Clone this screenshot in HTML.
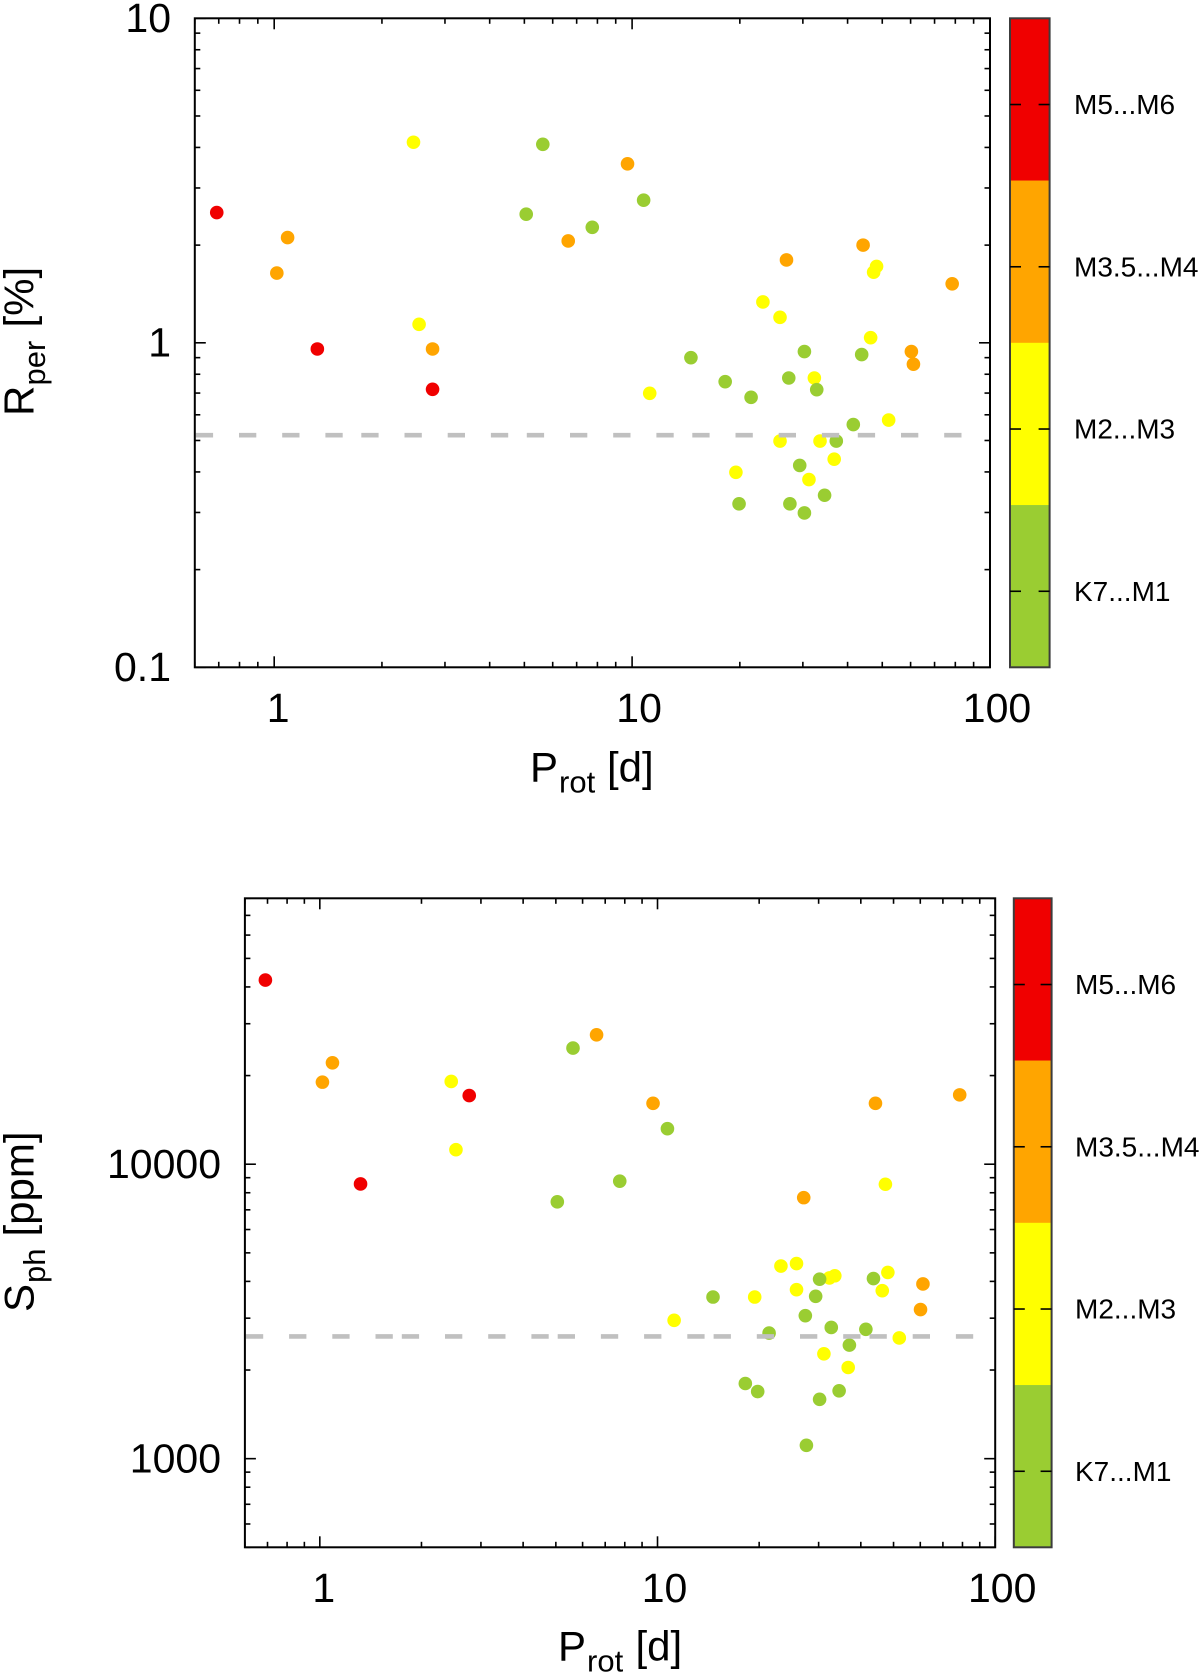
<!DOCTYPE html>
<html lang="en">
<head>
<meta charset="utf-8">
<title>Rotation period vs variability</title>
<style>
  html, body { margin: 0; padding: 0; background: #fff; }
  svg { display: block; }
  text { font-family: "Liberation Sans", Arial, sans-serif; fill: #000; }
  .tick-label { font-size: 41px; }
  .axis-title { font-size: 42px; }
  .axis-sub { font-size: 31px; }
  .cb-label { font-size: 28px; }
</style>
</head>
<body>
<svg id="figure" xmlns="http://www.w3.org/2000/svg" width="1200" height="1679" viewBox="0 0 1200 1679">
  <rect x="0" y="0" width="1200" height="1679" fill="#fff"/>
  <g id="plot-top">
    <g>
      <text class="axis-title" transform="translate(33.7,416) rotate(-90)">R</text>
      <text class="axis-sub" transform="translate(45,385.5) rotate(-90)">per</text>
      <text class="axis-title" transform="translate(33.7,327.5) rotate(-90)">[%]</text>
    </g>
    <g>
      <text class="axis-title" x="530" y="781.7">P</text>
      <text class="axis-sub" x="559" y="792.7">rot</text>
      <text class="axis-title" x="607" y="781.7">[d]</text>
    </g>
  </g>
  <g id="plot-bottom">
    <g>
      <text class="axis-title" transform="translate(33.7,1312) rotate(-90)">S</text>
      <text class="axis-sub" transform="translate(45,1283) rotate(-90)">ph</text>
      <text class="axis-title" transform="translate(33.7,1236.5) rotate(-90)">[ppm]</text>
    </g>
    <g>
      <text class="axis-title" x="558" y="1660.7">P</text>
      <text class="axis-sub" x="587" y="1671.7">rot</text>
      <text class="axis-title" x="635.5" y="1660.7">[d]</text>
    </g>
  </g>
</svg>
<script>
// ---- shared categories ----
const classNames = ["M5...M6", "M3.5...M4", "M2...M3", "K7...M1"];
const classColors = ["#f00000", "#ffa500", "#ffff00", "#9acd32"];
const xTickLabels = [1, 10, 100];

// ---- upper panel data ----
const rperTickLabels = [10, 1, 0.1];
const rperThreshold = [0.519];
const rperPeriods = [
  0.691, 1.32, 2.77,
  1.09, 1.017, 2.77, 6.63, 9.71, 27.0, 44.2, 78.4, 60.3, 61.1,
  2.45, 2.54, 48.2, 47.3, 23.2, 25.9, 46.4, 32.3, 11.2, 52.1, 25.9, 33.5, 36.7, 31.2, 19.5,
  5.63, 5.06, 7.74, 10.77, 30.3, 43.8, 14.6, 18.2, 27.4, 32.8, 21.5, 41.5, 37.2, 29.4, 34.5, 19.9, 27.6, 30.3
];
const rperValues = [
  2.52, 0.957, 0.719,
  2.11, 1.64, 0.957, 2.06, 3.56, 1.80, 2.0, 1.52, 0.94, 0.859,
  4.15, 1.14, 1.72, 1.65, 1.336, 1.198, 1.037, 0.779, 0.699, 0.578, 0.498, 0.498, 0.438, 0.379, 0.399,
  4.09, 2.49, 2.27, 2.75, 0.94, 0.92, 0.90, 0.759, 0.779, 0.717, 0.679, 0.56, 0.498, 0.419, 0.339, 0.319, 0.319, 0.299
];
const rperClasses = [
  0, 0, 0,
  1, 1, 1, 1, 1, 1, 1, 1, 1, 1,
  2, 2, 2, 2, 2, 2, 2, 2, 2, 2, 2, 2, 2, 2, 2,
  3, 3, 3, 3, 3, 3, 3, 3, 3, 3, 3, 3, 3, 3, 3, 3, 3, 3
];

// ---- lower panel data ----
const sphTickLabels = [10000, 1000];
const sphThreshold = [2600];
const sphPeriods = [
  0.69, 2.77, 1.32,
  1.09, 1.018, 6.6, 9.7, 78.5, 44.2, 27.1, 61.1, 60.1,
  2.45, 2.53, 47.3, 23.2, 25.8, 32.3, 33.5, 48.1, 46.3, 25.8, 19.4, 11.2, 52, 31.1, 36.7,
  5.05, 5.62, 10.7, 7.73, 30.2, 43.6, 29.4, 14.6, 27.4, 32.7, 41.4, 21.4, 37, 18.2, 19.8, 34.5, 30.2, 27.6
];
const sphValues = [
  42200, 17100, 8570,
  22100, 19000, 27500, 16100, 17200, 16100, 7700, 3920, 3210,
  19100, 11200, 8550, 4510, 4600, 4110, 4180, 4290, 3720, 3750, 3540, 2950, 2570, 2270, 2040,
  7450, 24800, 13200, 8760, 4070, 4090, 3560, 3540, 3060, 2790, 2750, 2670, 2430, 1800, 1690, 1700, 1590, 1110
];
const sphClasses = [
  0, 0, 0,
  1, 1, 1, 1, 1, 1, 1, 1, 1,
  2, 2, 2, 2, 2, 2, 2, 2, 2, 2, 2, 2, 2, 2, 2,
  3, 3, 3, 3, 3, 3, 3, 3, 3, 3, 3, 3, 3, 3, 3, 3, 3, 3
];

// ---- rendering ----
const NS = "http://www.w3.org/2000/svg";
function make(parent, tag, attrs) {
  const el = document.createElementNS(NS, tag);
  for (const k in attrs) el.setAttribute(k, attrs[k]);
  parent.appendChild(el);
  return el;
}
function logScale(d0, d1, r0, r1) {
  return v => r0 + (Math.log10(v) - Math.log10(d0)) / (Math.log10(d1) - Math.log10(d0)) * (r1 - r0);
}
function logTicks(lo, hi) {
  const out = [];
  for (let e = Math.floor(Math.log10(lo)); e <= Math.ceil(Math.log10(hi)); e++) {
    for (let m = 1; m < 10; m++) {
      const v = m * Math.pow(10, e);
      if (v >= lo * 0.999 && v <= hi * 1.001) out.push({ v: v, major: m === 1 });
    }
  }
  return out;
}

function drawPlot(opt) {
  const root = document.getElementById(opt.id);
  const box = opt.box;
  const sx = logScale(0.6, 100, box.x0, box.x1);
  const sy = logScale(opt.yMin, opt.yMax, box.y1, box.y0);
  const prefix = opt.prefix;

  // points, drawn class by class
  const pts = make(root, "g", {});
  
  
  classNames.forEach((name, c) => {
    opt.periods.forEach((p, i) => {
      if (opt.classes[i] !== c) return;
      const dot = make(pts, "circle", { cx: sx(p), cy: sy(opt.values[i]), r: 6.8, fill: classColors[c] });
      
      
    });
  });

  // threshold
  const th = make(root, "line", {
    x1: sx(0.6) + 1, x2: opt.lineEnd, y1: sy(opt.threshold[0]), y2: sy(opt.threshold[0]),
    stroke: "#c0c0c0", "stroke-width": 4.6, "stroke-dasharray": opt.dash
  });
  
  

  // ticks
  const ticks = make(root, "g", { stroke: "#000", "stroke-width": 1.6 });
  
  
  logTicks(0.6, 100).forEach(t => {
    const len = t.major ? 11 : 5.5;
    const x = sx(t.v);
    const a = make(ticks, "line", { x1: x, x2: x, y1: box.y1, y2: box.y1 - len });
    
    
    const b = make(ticks, "line", { x1: x, x2: x, y1: box.y0, y2: box.y0 + len });
    
    
  });
  logTicks(opt.yMin, opt.yMax).forEach(t => {
    const len = t.major ? 11 : 5.5;
    const y = sy(t.v);
    const a = make(ticks, "line", { x1: box.x0, x2: box.x0 + len, y1: y, y2: y });
    
    
    const b = make(ticks, "line", { x1: box.x1, x2: box.x1 - len, y1: y, y2: y });
    
    
  });

  // frame
  const frame = make(root, "rect", {
    x: box.x0, y: box.y0, width: box.x1 - box.x0, height: box.y1 - box.y0,
    fill: "none", stroke: "#000", "stroke-width": 2
  });
  
  

  // tick labels
  xTickLabels.forEach(v => {
    const t = make(root, "text", { class: "tick-label", x: sx(v) + (v === 1 ? opt.oneDx : 7), y: opt.xLabelY, "text-anchor": "middle" });
    t.textContent = String(v);
    
    
  });
  opt.yTicks.forEach(v => {
    const t = make(root, "text", { class: "tick-label", x: opt.yLabelX, y: sy(v) + 13.7, "text-anchor": "end" });
    t.textContent = String(v);
    
    
  });

  // colour bar
  const cb = opt.cb;
  const bar = make(root, "g", {});
  
  
  const segH = (box.y1 - box.y0) / classNames.length;
  classNames.forEach((name, c) => {
    const seg = make(bar, "rect", { x: cb.x0, y: box.y0 + c * segH, width: cb.x1 - cb.x0, height: segH + 0.3, fill: classColors[c] });
    
    
  });
  const outline = make(bar, "rect", { x: cb.x0, y: box.y0, width: cb.x1 - cb.x0, height: box.y1 - box.y0, fill: "none", stroke: "#3c3c3c", "stroke-width": 2 });
  
  
  classNames.forEach((name, c) => {
    const y = box.y0 + (c + 0.5) * segH + 5.1;
    const l = make(bar, "line", { x1: cb.x0, x2: cb.x0 + 11, y1: y, y2: y, stroke: "#000", "stroke-width": 1.6 });
    
    
    const r = make(bar, "line", { x1: cb.x1, x2: cb.x1 - 11, y1: y, y2: y, stroke: "#000", "stroke-width": 1.6 });
    
    
    const t = make(bar, "text", { class: "cb-label", x: cb.labelX, y: y + 9.6 });
    t.textContent = name;
    
    
  });
}

drawPlot({
  id: "plot-top", prefix: "rper",
  box: { x0: 194.8, x1: 990, y0: 18.3, y1: 667.3 },
  yMin: 0.1, yMax: 10,
  periods: rperPeriods, values: rperValues, classes: rperClasses,
  threshold: rperThreshold, yTicks: rperTickLabels,
  dash: "17.3 25.9 17.3 25.9 17.3 25.9 17.3 18.6",
  lineEnd: 961.7, xLabelY: 722, yLabelX: 171, oneDx: 4,
  cb: { x0: 1010, x1: 1049.6, labelX: 1074 }
});
drawPlot({
  id: "plot-bottom", prefix: "sph",
  box: { x0: 244.9, x1: 995.2, y0: 898.3, y1: 1547.3 },
  yMin: 500, yMax: 80000,
  periods: sphPeriods, values: sphValues, classes: sphClasses,
  threshold: sphThreshold, yTicks: sphTickLabels,
  dash: "17.3 25.9 17.3 25.9 17.3 25.9 17.3 9",
  lineEnd: 974.3, xLabelY: 1602, yLabelX: 221, oneDx: 4,
  cb: { x0: 1013.8, x1: 1051.6, labelX: 1075 }
});
</script>
</body>
</html>
